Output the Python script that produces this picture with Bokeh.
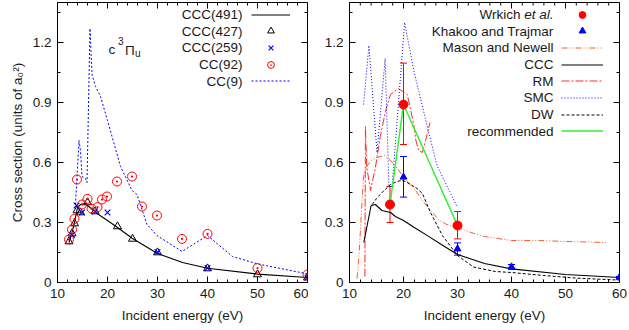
import math
from bokeh.plotting import figure
from bokeh.models import (Range1d, FixedTicker, Legend, LegendItem,
                          Label, Whisker, ColumnDataSource, TeeHead)
from bokeh.layouts import row
from bokeh.embed import file_html
from bokeh.resources import INLINE

FONT = "Liberation Sans"
FS = "13.5px"
TXT = "#1a1a1a"

# ---------------- data: left panel ----------------
x_ticks = [10, 20, 30, 40, 50, 60]
x_minor = [12, 14, 16, 18, 22, 24, 26, 28, 32, 34, 36, 38, 42, 44, 46, 48, 52, 54, 56, 58]
y_ticks = [0, 0.3, 0.6, 0.9, 1.2]
y_minor = [0.15, 0.45, 0.75, 1.05, 1.35]
y_tick_labels = {0: "0", 0.3: "0.3", 0.6: "0.6", 0.9: "0.9", 1.2: "1.2"}

ccc491_e = [12.3, 12.9, 13.4, 14.0, 14.6, 15.5, 16.5, 17.5, 18.5, 20.0, 22.0, 25.0, 30.0, 35.0, 40.0, 50.0, 60.0]
ccc491_y = [0.20, 0.25, 0.30, 0.375, 0.39, 0.395, 0.375, 0.355, 0.335, 0.31, 0.275, 0.22, 0.145, 0.10, 0.071, 0.042, 0.025]

ccc427_e = [12.3, 12.9, 13.4, 13.9, 14.6, 16.0, 17.5, 22.0, 25.0, 30.0, 40.0, 50.0, 60.0]
ccc427_y = [0.205, 0.245, 0.295, 0.36, 0.35, 0.40, 0.355, 0.28, 0.218, 0.15, 0.07, 0.04, 0.024]

ccc259_e = [12.9, 13.8, 14.9, 17.5, 20.0, 30.0, 40.0, 60.0]
ccc259_y = [0.238, 0.385, 0.35, 0.355, 0.35, 0.152, 0.072, 0.025]

cc92_e = [12.3, 12.9, 13.4, 13.9, 14.9, 16.0, 16.8, 18.0, 18.9, 19.9, 21.9, 24.9, 26.9, 29.9, 34.9, 40.0, 50.0, 60.0]
cc92_y = [0.215, 0.265, 0.318, 0.515, 0.39, 0.418, 0.37, 0.377, 0.415, 0.43, 0.505, 0.53, 0.38, 0.335, 0.218, 0.243, 0.072, 0.04]

cc9_e = [13.6, 14.3, 14.6, 14.9, 15.6, 15.9, 16.5, 16.9, 17.6, 18.6, 20.0, 22.6, 24.9, 25.9, 27.9, 29.9, 34.9, 40.0, 45.0, 50.0, 60.0]
cc9_y = [0.39, 0.71, 0.66, 0.53, 0.52, 0.50, 1.27, 1.04, 0.98, 0.93, 0.81, 0.58, 0.46, 0.44, 0.29, 0.235, 0.155, 0.235, 0.13, 0.093, 0.043]

left_legend = ["CCC(491)", "CCC(427)", "CCC(259)", "CC(92)", "CC(9)"]

# ---------------- data: right panel ----------------
wr_e = [17.5, 20.0, 30.0]
wr_y = [0.39, 0.89, 0.285]
wr_lo = [0.30, 0.69, 0.218]
wr_hi = [0.48, 1.097, 0.355]

kt_e = [20.0, 30.0, 40.0, 60.0]
kt_y = [0.527, 0.168, 0.078, 0.026]
kt_lo = [0.427, 0.137, 0.066, 0.022]
kt_hi = [0.63, 0.198, 0.09, 0.030]

mn_e = [11.4, 11.8, 12.2, 12.6, 13.2, 14.0, 15.0, 16.5, 18.0, 19.0, 20.5, 22.0, 23.5, 25.0, 26.5, 28.0, 30.0, 32.5, 35.0, 40.0, 45.0, 50.0, 57.5]
mn_y = [0.02, 0.15, 0.35, 0.53, 0.58, 0.61, 0.625, 0.635, 0.60, 0.565, 0.51, 0.47, 0.41, 0.36, 0.315, 0.29, 0.275, 0.25, 0.23, 0.21, 0.21, 0.205, 0.20]

ccc_e = [12.65, 14.0, 14.8, 16.0, 17.6, 18.5, 20.0, 22.0, 24.5, 27.0, 30.0, 35.0, 40.0, 50.0, 60.0]
ccc_y = [0.20, 0.385, 0.39, 0.36, 0.35, 0.33, 0.31, 0.275, 0.233, 0.19, 0.14, 0.095, 0.068, 0.04, 0.025]

rm_e = [12.85, 12.95, 13.2, 13.9, 14.8, 15.7, 16.7, 17.6, 19.0, 20.7, 21.9, 22.3, 22.8, 23.5, 24.1, 24.9]
rm_y = [0.03, 0.78, 0.575, 0.46, 0.575, 0.73, 0.86, 0.94, 0.97, 0.94, 0.79, 0.71, 0.66, 0.65, 0.71, 0.80]

smc_e = [12.6, 13.6, 15.1, 16.6, 17.3, 17.9, 20.2, 21.9, 24.4, 26.2, 30.0]
smc_y = [0.89, 1.185, 0.65, 1.12, 0.48, 0.48, 1.30, 1.06, 0.78, 0.585, 0.375]

dw_e = [14.2, 15.0, 16.4, 17.6, 18.8, 19.6, 20.4, 21.3, 22.5, 23.5, 25.0, 27.2, 30.0, 33.0, 37.0, 40.0, 46.0, 52.0, 60.0]
dw_y = [0.39, 0.42, 0.46, 0.49, 0.505, 0.51, 0.505, 0.49, 0.47, 0.445, 0.35, 0.235, 0.135, 0.077, 0.055, 0.05, 0.035, 0.022, 0.012]

rec_e = [17.5, 20.0, 30.0]
rec_y = [0.39, 0.89, 0.285]

right_legend = ["Khakoo and Trajmar", "Mason and Newell", "CCC", "RM", "SMC", "DW", "recommended"]

FRAME_H = 280
ROW0 = 12.0
ROWH = 16.67
X_LO, X_HI = 10, 60
Y_LO, Y_HI = 0, 1.4


def make_fig(min_left, frame_w, min_right):
    p = figure(frame_width=frame_w, frame_height=FRAME_H,
               min_border_left=min_left, min_border_right=min_right,
               min_border_top=2, min_border_bottom=44,
               x_range=Range1d(X_LO, X_HI), y_range=Range1d(Y_LO, Y_HI),
               output_backend="svg", toolbar_location=None, tools="")
    p.grid.visible = False
    p.outline_line_color = "black"
    p.outline_line_alpha = 1
    p.background_fill_color = "white"
    p.border_fill_color = "white"
    bx = p.below[0]
    ly = p.left[0]
    bx.ticker = FixedTicker(ticks=x_ticks, minor_ticks=x_minor)
    ly.ticker = FixedTicker(ticks=y_ticks, minor_ticks=y_minor)
    ly.major_label_overrides = y_tick_labels
    for ax in [bx, ly]:
        ax.major_tick_in = 6
        ax.major_tick_out = 0
        ax.minor_tick_in = 3
        ax.minor_tick_out = 0
        ax.axis_line_color = "black"
        ax.major_tick_line_color = "black"
        ax.minor_tick_line_color = "black"
        ax.major_label_text_font = FONT
        ax.major_label_text_font_size = FS
        ax.major_label_text_color = TXT
        ax.major_label_standoff = 6
        ax.axis_label_text_font = FONT
        ax.axis_label_text_font_size = FS
        ax.axis_label_text_font_style = "normal"
        ax.axis_label_text_color = TXT
    bx.axis_label = "Incident energy (eV)"
    bx.axis_label_standoff = 7
    # mirrored inward ticks on the top and right frame edges (half of each dash is clipped)
    p.scatter(x_ticks, [Y_HI] * len(x_ticks), marker="dash", angle=math.pi / 2, size=12,
              line_color="black", line_width=1)
    p.scatter(x_minor, [Y_HI] * len(x_minor), marker="dash", angle=math.pi / 2, size=6,
              line_color="black", line_width=1)
    p.scatter([X_HI] * len(y_ticks), y_ticks, marker="dash", size=12,
              line_color="black", line_width=1)
    p.scatter([X_HI] * len(y_minor), y_minor, marker="dash", size=6,
              line_color="black", line_width=1)
    return p, bx, ly


def legend_row(p, renderer, x0, i, w):
    yc = FRAME_H - (ROW0 + i * ROWH)
    lg = Legend(items=[LegendItem(label=" ", renderers=[renderer])],
                location=(x0, yc - 8.5), glyph_width=w, glyph_height=17,
                label_height=17, label_width=0, label_standoff=0,
                padding=0, margin=0, spacing=0,
                border_line_alpha=0, background_fill_alpha=0,
                label_text_font_size="1px")
    p.add_layout(lg)


def legend_text(p, text, x, i, style="normal"):
    yc = FRAME_H - (ROW0 + i * ROWH)
    p.add_layout(Label(x=x, y=yc, x_units="screen", y_units="screen", text=text,
                       text_align="right", text_baseline="middle",
                       text_font=FONT, text_font_size=FS, text_color=TXT,
                       text_font_style=style))


# ---------------- left panel ----------------
FW1 = 250
p1, bx1, ly1 = make_fig(57, FW1, 1)
ly1.axis_label = "Cross section (units of a\u2080\u00b2)"
ly1.axis_label_standoff = 5

r_cc9 = p1.line(cc9_e, cc9_y, line_color="#0000ff", line_dash="2 2", line_width=1)
r_491 = p1.line(ccc491_e, ccc491_y, line_color="black", line_width=1.1)
r_427 = p1.scatter(ccc427_e, ccc427_y, marker="triangle", size=8, fill_alpha=0,
                   line_color="black", line_width=1)
r_259 = p1.scatter(ccc259_e, ccc259_y, marker="x", size=8, line_color="#0000ff", line_width=1.2)
r_92 = p1.scatter(cc92_e, cc92_y, marker="circle_dot", size=9, fill_alpha=0,
                  line_color="#ff0000", line_width=1)

lx1 = FW1 - 56
for i, r in enumerate([r_491, r_427, r_259, r_92, r_cc9]):
    legend_row(p1, r, lx1, i, 39)
for i, t in enumerate(left_legend):
    legend_text(p1, t, FW1 - 65, i)


def ann(p, text, x, y_from_top, size):
    p.add_layout(Label(x=x, y=FRAME_H - y_from_top, x_units="screen", y_units="screen",
                       text=text, text_align="left", text_baseline="alphabetic",
                       text_font=FONT, text_font_size=size, text_color=TXT))


ann(p1, "c", 51, 47, FS)
ann(p1, "3", 60.5, 38, "10px")
ann(p1, "\u03a0", 67.5, 48, FS)
ann(p1, "u", 77.5, 51, "10px")

# ---------------- right panel ----------------
FW2 = 270
p2, bx2, ly2 = make_fig(41, FW2, 8)

r_mn = p2.line(mn_e, mn_y, line_color="#f0602a", line_dash="6 2 1 2 1 2", line_width=1)
r_rm = p2.line(rm_e, rm_y, line_color="#ff2a2a", line_dash="8 2 2 2", line_width=1)
r_smc = p2.line(smc_e, smc_y, line_color="#0000ff", line_dash="1 2", line_width=1)
r_dw = p2.line(dw_e, dw_y, line_color="black", line_dash="3 2", line_width=1)
r_ccc = p2.line(ccc_e, ccc_y, line_color="black", line_width=1.1)
r_rec = p2.line(rec_e, rec_y, line_color="#33ee33", line_width=1.5)

src_wr = ColumnDataSource(dict(x=wr_e, y=wr_y, lo=wr_lo, hi=wr_hi))
src_kt = ColumnDataSource(dict(x=kt_e, y=kt_y, lo=kt_lo, hi=kt_hi))
p2.add_layout(Whisker(base="x", lower="lo", upper="hi", source=src_wr, line_color="#ff0000",
                      upper_head=TeeHead(size=7, line_color="#ff0000"),
                      lower_head=TeeHead(size=7, line_color="#ff0000")))
p2.add_layout(Whisker(base="x", lower="lo", upper="hi", source=src_kt, line_color="#0000ff",
                      upper_head=TeeHead(size=7, line_color="#0000ff"),
                      lower_head=TeeHead(size=7, line_color="#0000ff")))
r_wr = p2.scatter("x", "y", source=src_wr, marker="circle", size=9,
                  fill_color="#ff0000", line_color="#ff0000")
r_kt = p2.scatter("x", "y", source=src_kt, marker="triangle", size=7,
                  fill_color="#0000ff", line_color="#0000ff")

lx2 = FW2 - 58
for i, r in enumerate([r_wr, r_kt, r_mn, r_ccc, r_rm, r_smc, r_dw, r_rec]):
    legend_row(p2, r, lx2, i, 42)

yc0 = FRAME_H - ROW0
p2.add_layout(Label(x=FW2 - 66, y=yc0, x_units="screen", y_units="screen", text="et al.",
                    text_align="right", text_baseline="middle", text_font=FONT,
                    text_font_size=FS, text_color=TXT, text_font_style="italic"))
p2.add_layout(Label(x=FW2 - 66 - 33, y=yc0, x_units="screen", y_units="screen", text="Wrkich",
                    text_align="right", text_baseline="middle", text_font=FONT,
                    text_font_size=FS, text_color=TXT))
for i, t in enumerate(right_legend):
    legend_text(p2, t, FW2 - 66, i + 1)

layout = row(p1, p2, spacing=0)
open("out.html", "w").write(file_html(layout, INLINE))
